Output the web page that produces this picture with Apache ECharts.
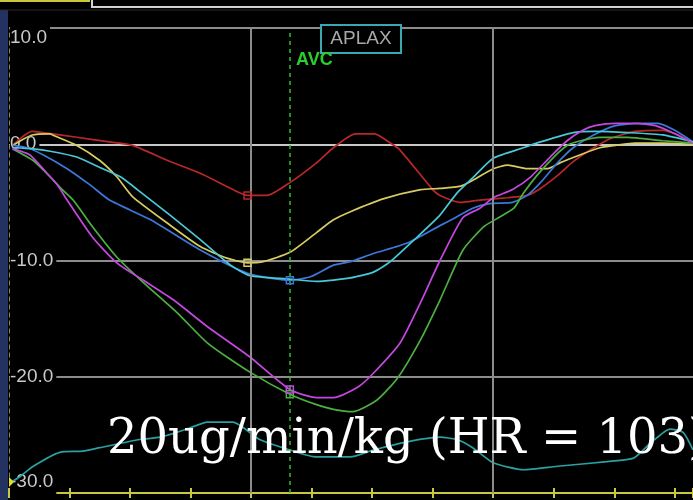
<!DOCTYPE html>
<html><head><meta charset="utf-8">
<script src="https://cdn.jsdelivr.net/npm/echarts@6/dist/echarts.min.js"></script>
<style>html,body{margin:0;padding:0;background:#000;overflow:hidden}#c{width:693px;height:500px}</style>
</head><body><div id="c"></div>
<script>
// time in ms, strain in %
const redCurve = [[3,-0.1],[19,1.1],[28,1.0],[56,0.6],[83,0.2],[102,-0.1],[131,-1.4],[158,-2.5],[185,-3.9],[197,-4.4],[213,-4.4],[232,-3.3],[254,-1.6],[268,-0.3],[286,0.9],[302,0.9],[315,0.1],[323,-0.5],[350,-3.9],[356,-4.4],[373,-5.0],[389,-4.8],[412,-4.6],[428,-4.4],[439,-3.8],[453,-2.7],[466,-1.5],[480,-0.5],[497,0.5],[517,1.1],[540,1.2],[553,0.8],[565,0.1]];
const yellowCurve = [[3,-0.1],[19,0.8],[34,0.9],[36,0.8],[56,-0.1],[75,-1.4],[89,-2.8],[102,-4.5],[131,-6.8],[158,-8.8],[180,-9.8],[197,-10.2],[210,-10.1],[232,-9.3],[254,-7.6],[268,-6.5],[282,-5.8],[309,-4.7],[340,-3.9],[356,-3.8],[373,-3.6],[383,-3.1],[400,-2.1],[412,-1.8],[428,-2.1],[445,-2.1],[455,-1.6],[472,-0.9],[488,-0.3],[501,-0.1],[517,0.1],[540,0.1],[565,0]];
const blueCurve = [[3,-0.1],[15,-0.3],[28,-0.9],[48,-2.1],[67,-3.5],[83,-4.8],[117,-6.5],[158,-9.1],[197,-11.1],[232,-11.7],[249,-11.4],[268,-10.4],[282,-10.1],[301,-9.4],[329,-8.5],[356,-7.0],[367,-6.4],[383,-5.5],[397,-5.1],[416,-5.0],[428,-4.4],[439,-3.3],[453,-1.6],[466,-0.3],[483,0.8],[501,1.6],[520,1.8],[536,1.8],[550,1.2],[565,0.2]];
const cyanCurve = [[3,-0.3],[20,-0.4],[34,-0.6],[56,-1.1],[75,-2.0],[92,-2.8],[106,-3.9],[133,-6.1],[158,-8.2],[183,-10.4],[199,-11.3],[232,-11.6],[254,-11.8],[282,-11.5],[301,-11.0],[315,-10.1],[337,-8.0],[356,-6.1],[370,-4.2],[383,-2.9],[400,-1.2],[425,-0.3],[439,0.2],[466,1.0],[484,1.1],[511,1.0],[540,0.8],[565,0.2]];
const magentaCurve = [[3,-0.4],[17,-0.9],[28,-2.1],[40,-3.5],[48,-4.8],[69,-8.0],[89,-10.2],[111,-11.7],[136,-13.4],[164,-15.7],[199,-18.3],[232,-21.1],[254,-21.8],[268,-21.8],[288,-20.9],[301,-19.7],[323,-17.1],[340,-13.6],[356,-10.0],[375,-6.3],[389,-5.5],[400,-4.6],[416,-3.9],[431,-2.8],[447,-1.1],[461,0.3],[474,1.2],[484,1.6],[501,1.8],[517,1.8],[534,1.6],[550,0.9],[565,0.1]];
const greenCurve = [[3,-0.4],[20,-1.4],[34,-2.8],[44,-3.9],[53,-4.8],[69,-7.1],[89,-9.7],[111,-11.9],[139,-14.5],[164,-17.1],[199,-19.6],[232,-21.5],[254,-22.4],[268,-22.8],[284,-23.0],[304,-22.0],[321,-20.1],[340,-16.8],[356,-13.4],[375,-9.1],[392,-7.1],[403,-6.4],[417,-5.5],[425,-4.2],[436,-2.7],[450,-1.1],[461,-0.1],[472,0.3],[488,0.6],[511,0.6],[540,0.3],[565,0.1]];
const ecgTrace = [[1,-29.1],[9,-28.6],[20,-27.7],[42,-26.5],[61,-26.4],[75,-26.1],[108,-25.4],[125,-25.2],[147,-24.5],[164,-23.9],[185,-23.9],[207,-25.4],[232,-26.3],[254,-26.9],[282,-26.9],[301,-26.3],[329,-25.6],[356,-25.2],[370,-25.4],[383,-26.1],[400,-27.4],[425,-28.0],[453,-27.7],[494,-27.3],[516,-27.0],[530,-25.7],[546,-24.5],[557,-24.8],[565,-26.3]];
const peakIndex = {red: 9, yellow: 11, blue: 9, magenta: 11, green: 11};
const avcTime = 232;
const gridTimes = [200, 400];
const yTicks = [-30, -20, -10, 0, 10];
const title = '20ug/min/kg (HR = 103)';

const chart = echarts.init(document.getElementById('c'));
function curve(name, data, color, idx) {
  const s = {
    name, type: 'line', data, showSymbol: false, symbol: 'none', smooth: 0.2, z: 3,
    lineStyle: {color, width: 1.7}, itemStyle: {color}, animation: false
  };
  if (idx !== undefined) {
    s.markPoint = {
      silent: true, animation: false,
      data: [{coord: data[idx], symbol: 'rect', symbolSize: 7,
        itemStyle: {color: 'rgba(0,0,0,0)', borderColor: color, borderWidth: 1.5}, label: {show: false}}]
    };
  }
  return s;
}
const lab = {fontSize: 19, fontFamily: 'Liberation Sans', color: '#c8c8c8'};
chart.setOption({
  backgroundColor: '#000',
  animation: false,
  grid: {left: 9, right: 0, top: 28, bottom: 7, containLabel: false, outerBoundsMode: 'none'},
  xAxis: [
    {type: 'value', min: 0, max: 565, interval: 50, position: 'bottom',
     axisLine: {show: true, onZero: false, lineStyle: {color: '#c8c83a', width: 2}},
     axisTick: {show: true, length: 5, lineStyle: {color: '#c8c83a', width: 2}},
     axisLabel: {show: false}, splitLine: {show: false}},
    {type: 'value', min: 0, max: 565, interval: 50, position: 'bottom', offset: 0,
     axisLine: {show: false, onZero: false}, axisTick: {show: true, inside: true, length: 5, lineStyle: {color: '#c8c83a', width: 2}},
     axisLabel: {show: false}, splitLine: {show: false}}
  ],
  yAxis: {
    type: 'value', min: yTicks[0], max: yTicks[yTicks.length - 1], interval: 10,
    axisLine: {show: true, onZero: false, lineStyle: {color: '#8a8a6a', type: [4, 4], width: 1}},
    axisTick: {show: false},
    splitLine: {show: true, lineStyle: {color: ['#8c8c8c', '#8c8c8c', '#8c8c8c', '#c8c8c8', '#8c8c8c'], width: 2}},
    axisLabel: {
      inside: true, margin: 1, align: 'left', backgroundColor: '#000', padding: [0, 3, 0, 0],
      formatter: v => {
        const t = v.toFixed(1);
        if (v === yTicks[yTicks.length - 1]) return '{top|' + t + '}';
        if (v === yTicks[0]) return '{bot|' + t + '}';
        return '{n|' + t + '}';
      },
      rich: {
        top: Object.assign({padding: [20, 0, 0, 0]}, lab),
        bot: Object.assign({padding: [0, 0, 22, 0]}, lab),
        n: Object.assign({}, lab)
      }
    }
  },
  series: [
    {type: 'line', data: [], z: 1, silent: true,
     markLine: {silent: true, symbol: 'none', animation: false, label: {show: false},
       data: gridTimes.map(t => ({xAxis: t, lineStyle: {color: '#8c8c8c', width: 2, type: 'solid'}}))
         .concat([{xAxis: avcTime, lineStyle: {color: '#30c030', width: 1.5, type: [4, 4]}}])
     }},
    curve('ecg', ecgTrace, '#2aa0a0'),
    curve('red', redCurve, '#b82828', peakIndex.red),
    curve('yellow', yellowCurve, '#d6cc62', peakIndex.yellow),
    curve('blue', blueCurve, '#3c78d8', peakIndex.blue),
    curve('cyan', cyanCurve, '#48c8d8'),
    curve('green', greenCurve, '#4cb040', peakIndex.green),
    curve('magenta', magentaCurve, '#c448e0', peakIndex.magenta)
  ],
  graphic: [
    {type: 'rect', shape: {x: 0, y: 10, width: 8, height: 490}, style: {fill: '#243262'}, z: 50},
    {type: 'rect', shape: {x: 0, y: 0, width: 693, height: 10}, style: {fill: '#000'}, z: 49},
    {type: 'line', shape: {x1: 0, y1: 1, x2: 90, y2: 1}, style: {stroke: '#c8c83a', lineWidth: 2}, z: 50},
    {type: 'rect', shape: {x: 92, y: -6, width: 610, height: 13}, style: {fill: 'none', stroke: '#d0d0d0', lineWidth: 2}, z: 50},
    {type: 'line', shape: {x1: 0, y1: 10, x2: 693, y2: 10}, style: {stroke: '#2a2a2a', lineWidth: 1}, z: 50},
    {type: 'rect', shape: {x: 321, y: 25, width: 80, height: 28}, style: {fill: '#000', stroke: '#3aa8b0', lineWidth: 2}, z: 50},
    {type: 'text', x: 361, y: 39, style: {text: 'APLAX', fill: '#a8a8a8', font: '19px "Liberation Sans"', align: 'center', verticalAlign: 'middle'}, z: 51},
    {type: 'text', x: 296, y: 60, style: {text: 'AVC', fill: '#2ad02a', font: 'bold 18px "Liberation Sans"', align: 'left', verticalAlign: 'middle'}, z: 51},
    {type: 'polygon', shape: {points: [[9, 477], [14, 482], [9, 487]]}, style: {fill: '#e0e020'}, z: 51},
    {type: 'text', x: 107, y: 441, style: {text: title, fill: '#ffffff', font: '48px "DejaVu Serif"', align: 'left', verticalAlign: 'middle'}, z: 60}
  ]
});
</script></body></html>
